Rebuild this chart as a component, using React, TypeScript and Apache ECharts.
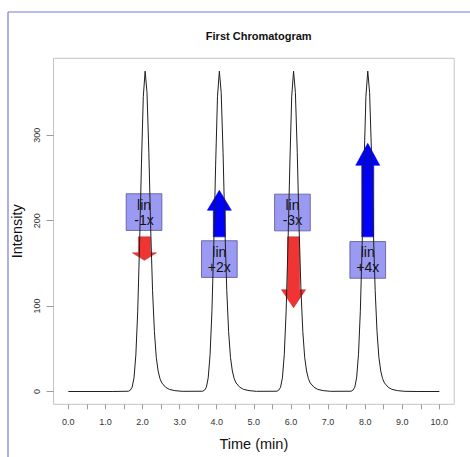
import React, { useEffect, useRef } from "react";
import * as echarts from "echarts";

// Chromatogram trace: retention time (min) and detector intensity
const baselineStart: [number, number][] = [[0.0, 0], [1.2, 0]];
const peak1: [number, number][] = [
  [1.62, 0.3], [1.67, 1.5], [1.72, 5], [1.77, 16], [1.82, 43], [1.87, 94], [1.92, 172], [1.97, 265],
  [2.02, 345], [2.07, 375], [2.12, 350], [2.17, 280], [2.22, 190], [2.27, 118], [2.32, 70], [2.37, 40],
  [2.42, 24], [2.47, 15], [2.52, 10], [2.62, 5], [2.72, 2.5], [2.87, 1], [3.07, 0.2],
];
const peak2: [number, number][] = [
  [3.62, 0.3], [3.67, 1.5], [3.72, 5], [3.77, 16], [3.82, 43], [3.87, 94], [3.92, 172], [3.97, 265],
  [4.02, 345], [4.07, 375], [4.12, 350], [4.17, 280], [4.22, 190], [4.27, 118], [4.32, 70], [4.37, 40],
  [4.42, 24], [4.47, 15], [4.52, 10], [4.62, 5], [4.72, 2.5], [4.87, 1], [5.07, 0.2],
];
const peak3: [number, number][] = [
  [5.62, 0.3], [5.67, 1.5], [5.72, 5], [5.77, 16], [5.82, 43], [5.87, 94], [5.92, 172], [5.97, 265],
  [6.02, 345], [6.07, 375], [6.12, 350], [6.17, 280], [6.22, 190], [6.27, 118], [6.32, 70], [6.37, 40],
  [6.42, 24], [6.47, 15], [6.52, 10], [6.62, 5], [6.72, 2.5], [6.87, 1], [7.07, 0.2],
];
const peak4: [number, number][] = [
  [7.62, 0.3], [7.67, 1.5], [7.72, 5], [7.77, 16], [7.82, 43], [7.87, 94], [7.92, 172], [7.97, 265],
  [8.02, 345], [8.07, 375], [8.12, 350], [8.17, 280], [8.22, 190], [8.27, 118], [8.32, 70], [8.37, 40],
  [8.42, 24], [8.47, 15], [8.52, 10], [8.62, 5], [8.72, 2.5], [8.87, 1], [9.07, 0.2],
];
const baselineEnd: [number, number][] = [[9.4, 0], [10.0, 0]];

// Axis ticks and labels
const xTickValues = [0, 0.5, 1, 1.5, 2, 2.5, 3, 3.5, 4, 4.5, 5, 5.5, 6, 6.5, 7, 7.5, 8, 8.5, 9, 9.5, 10];
const xLabelValues = [0, 1, 2, 3, 4, 5, 6, 7, 8, 9, 10];
const yTickValues = [0, 100, 200, 300];

// Fold-change annotations: label boxes and arrows
const boxTimes = [2.04, 4.07, 6.04, 8.07];
const boxIntensity = [210, 155, 209.5, 154];
const boxTexts = ["lin\n-1x", "lin\n+2x", "lin\n-3x", "lin\n+4x"];

const arrowTimes = [2.05, 4.07, 6.07, 8.07];
const arrowFrom = [181, 181, 181, 181];
const arrowTo = [153.5, 235.5, 98, 290.5];
const arrowHeadPx = [7.5, 20, 18, 22];

const FONT = "'Liberation Sans', Arial, Helvetica, sans-serif";

export default function App() {
  const ref = useRef<HTMLDivElement>(null);

  useEffect(() => {
    if (!ref.current) return;
    const chart = echarts.init(ref.current, undefined, { renderer: "svg" });

    const trace = [...baselineStart, ...peak1, ...peak2, ...peak3, ...peak4, ...baselineEnd];
    const boxData = boxTimes.map((t, i) => [t, boxIntensity[i], i]);
    const arrowData = arrowTimes.map((t, i) => [t, arrowFrom[i], arrowTo[i], arrowHeadPx[i]]);

    chart.setOption({
      animation: false,
      backgroundColor: "#ffffff",
      textStyle: { fontFamily: FONT },
      title: {
        text: "First Chromatogram",
        left: 253.7,
        textAlign: "center",
        top: 25,
        textStyle: { fontSize: 11, fontWeight: "bold", color: "#111", fontFamily: FONT },
      },
      grid: {
        left: 53.5,
        top: 58.3,
        width: 400.7,
        height: 346,
        show: true,
        borderColor: "#c4c4c4",
        borderWidth: 1,
        backgroundColor: "transparent",
      },
      xAxis: {
        type: "value",
        min: -0.4,
        max: 10.4,
        axisLine: { show: false, onZero: false },
        axisTick: { show: true, length: 5, lineStyle: { color: "#9a9a9a" }, customValues: xTickValues },
        axisLabel: {
          customValues: xLabelValues,
          formatter: (v: number) => v.toFixed(1),
          fontSize: 9,
          color: "#333",
          margin: 13,
          fontFamily: FONT,
        },
        splitLine: { show: false },
        name: "Time (min)",
        nameLocation: "middle",
        nameGap: 32,
        nameTextStyle: { fontSize: 14.5, color: "#111", fontFamily: FONT },
      },
      yAxis: {
        type: "value",
        min: -15,
        max: 390,
        axisLine: { show: false, onZero: false },
        axisTick: { show: true, length: 7, lineStyle: { color: "#9a9a9a" }, customValues: yTickValues },
        axisLabel: {
          customValues: yTickValues,
          rotate: 90,
          fontSize: 9,
          color: "#333",
          margin: 12,
          fontFamily: FONT,
        },
        splitLine: { show: false },
        name: "Intensity",
        nameLocation: "middle",
        nameGap: 26,
        nameTextStyle: { fontSize: 14.5, color: "#111", fontFamily: FONT },
      },
      graphic: [
        { type: "line", shape: { x1: 8, y1: 12, x2: 8, y2: 457 }, style: { stroke: "#7a7ad8", lineWidth: 1.2 } },
        { type: "line", shape: { x1: 8, y1: 12, x2: 470, y2: 12 }, style: { stroke: "#7a7ad8", lineWidth: 1.2 } },
      ],
      series: [
        {
          type: "custom",
          name: "labels",
          z: 2,
          data: boxData,
          encode: { x: 0, y: 1 },
          renderItem: (_params: any, api: any) => {
            const c = api.coord([api.value(0), api.value(1)]);
            const idx = api.value(2);
            const w = 35.7;
            const h = 36.7;
            return {
              type: "group",
              children: [
                {
                  type: "rect",
                  shape: { x: c[0] - w / 2, y: c[1] - h / 2, width: w, height: h },
                  style: { fill: "#9a9af2", stroke: "#55559a", lineWidth: 0.8 },
                },
                {
                  type: "text",
                  style: {
                    text: boxTexts[idx],
                    x: c[0],
                    y: c[1],
                    align: "center",
                    verticalAlign: "middle",
                    fontSize: 14,
                    lineHeight: 15,
                    fontFamily: FONT,
                    fill: "#111",
                  },
                },
              ],
            };
          },
        },
        {
          type: "custom",
          name: "arrows",
          z: 3,
          data: arrowData,
          encode: { x: 0, y: [1, 2] },
          renderItem: (_params: any, api: any) => {
            const t = api.value(0);
            const from = api.value(1);
            const to = api.value(2);
            const head = api.value(3);
            const p0 = api.coord([t, from]);
            const p1 = api.coord([t, to]);
            const dir = p1[1] < p0[1] ? -1 : 1;
            const hy = p1[1] - dir * head;
            const sw = 12;
            const hw = 24;
            const cx = p0[0];
            const up = to > from;
            const color = up ? "#0000ff" : "#f03434";
            return {
              type: "polygon",
              shape: {
                points: [
                  [cx - sw / 2, p0[1]],
                  [cx + sw / 2, p0[1]],
                  [cx + sw / 2, hy],
                  [cx + hw / 2, hy],
                  [cx, p1[1]],
                  [cx - hw / 2, hy],
                  [cx - sw / 2, hy],
                ],
              },
              style: { fill: color, stroke: up ? "#0000ff" : "#d02828", lineWidth: 0.6 },
            };
          },
        },
        {
          type: "line",
          name: "trace",
          z: 5,
          data: trace,
          showSymbol: false,
          symbol: "none",
          lineStyle: { color: "#1e1e1e", width: 1 },
        },
      ],
    });

    return () => chart.dispose();
  }, []);

  return (
    <div
      ref={ref}
      style={{ position: "fixed", left: 0, top: 0, width: 470, height: 457 }}
    />
  );
}
